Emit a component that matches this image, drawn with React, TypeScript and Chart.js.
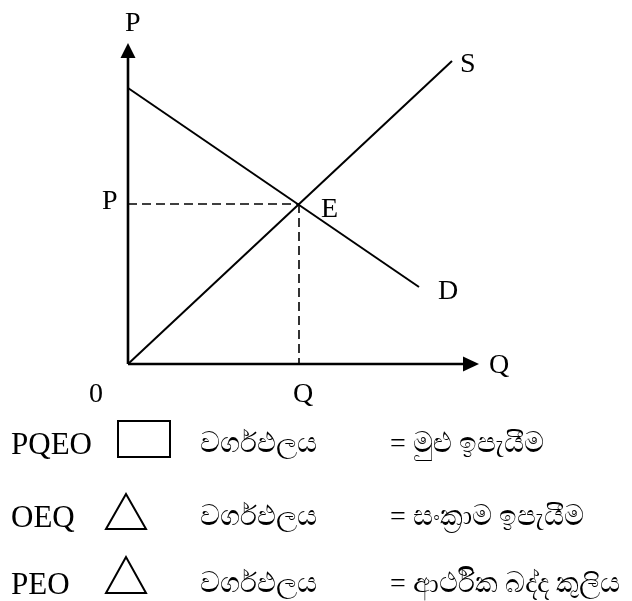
import React, { useEffect, useRef } from "react";
import { Chart, registerables } from "chart.js";

Chart.register(...registerables);

// Diagram values (abstract units: quantity on x, price on y)
const supplyX = [0, 32.4];
const supplyY = [0, 30.3];
const demandX = [0, 29.1];
const demandY = [27.6, 7.7];
const equilibriumQ = 17.1;
const equilibriumP = 16.0;
const axisMaxX = 35.1;
const axisMaxY = 32.1;
const arrowLenX = 1.6;
const arrowLenY = 1.5;

// Text labels on the diagram
const labelTexts = ["P", "P", "E", "S", "D", "Q", "0", "Q"];
const labelX = [-0.3, -2.6, 19.3, 33.2, 31.0, 36.1, -3.9, 16.5];
const labelY = [33.3, 15.5, 14.7, 29.2, 6.5, -0.9, -3.8, -3.8];

// Legend rows
const legendCodes = ["PQEO", "OEQ", "PEO"];
const legendWord = ["වර්ගඵලය", "වර්ගඵලය", "වර්ගඵලය"];
const legendMeaning = ["= මුළු ඉපැයීම", "= සංක්‍රාම ඉපැයීම", "= ආර්ථික බද්ද කුලිය"];
const legendBaselines = [455, 528, 595];

const W = 632;
const H = 601;

const overlayPlugin = {
  id: "overlay",
  afterDraw(chart: any) {
    const { ctx, scales } = chart;
    const xs = scales.x;
    const ys = scales.y;
    const px = (v: number) => xs.getPixelForValue(v);
    const py = (v: number) => ys.getPixelForValue(v);
    ctx.save();
    ctx.fillStyle = "#000";
    // y-axis arrow head
    const yx = px(0);
    ctx.beginPath();
    ctx.moveTo(yx, py(axisMaxY));
    ctx.lineTo(yx - 7.5, py(axisMaxY - arrowLenY));
    ctx.lineTo(yx + 7.5, py(axisMaxY - arrowLenY));
    ctx.closePath();
    ctx.fill();
    // x-axis arrow head
    const xy = py(0);
    ctx.beginPath();
    ctx.moveTo(px(axisMaxX), xy);
    ctx.lineTo(px(axisMaxX - arrowLenX), xy - 7.5);
    ctx.lineTo(px(axisMaxX - arrowLenX), xy + 7.5);
    ctx.closePath();
    ctx.fill();
    // labels
    ctx.font = '28px "Liberation Serif", "Times New Roman", serif';
    ctx.textBaseline = "alphabetic";
    ctx.textAlign = "left";
    labelTexts.forEach((t, i) => {
      ctx.fillText(t, px(labelX[i]), py(labelY[i]));
    });
    ctx.restore();
  },
};

export default function App() {
  const canvasRef = useRef<HTMLCanvasElement | null>(null);

  useEffect(() => {
    if (!canvasRef.current) return;
    const line = (xsArr: number[], ysArr: number[]) =>
      xsArr.map((x, i) => ({ x, y: ysArr[i] }));
    const chart = new Chart(canvasRef.current, {
      type: "line",
      data: {
        datasets: [
          {
            label: "y-axis",
            data: line([0, 0], [0, axisMaxY - arrowLenY]),
            borderColor: "#000",
            borderWidth: 2.6,
            pointRadius: 0,
            clip: false as any,
          },
          {
            label: "x-axis",
            data: line([0, axisMaxX - arrowLenX], [0, 0]),
            borderColor: "#000",
            borderWidth: 2.6,
            pointRadius: 0,
            clip: false as any,
          },
          {
            label: "S",
            data: line(supplyX, supplyY),
            borderColor: "#000",
            borderWidth: 2,
            pointRadius: 0,
            clip: false as any,
          },
          {
            label: "D",
            data: line(demandX, demandY),
            borderColor: "#000",
            borderWidth: 2,
            pointRadius: 0,
            clip: false as any,
          },
          {
            label: "P-E",
            data: line([0, equilibriumQ], [equilibriumP, equilibriumP]),
            borderColor: "#000",
            borderWidth: 1.6,
            borderDash: [9, 5],
            pointRadius: 0,
            clip: false as any,
          },
          {
            label: "E-Q",
            data: line([equilibriumQ, equilibriumQ], [equilibriumP, 0]),
            borderColor: "#000",
            borderWidth: 1.6,
            borderDash: [9, 5],
            pointRadius: 0,
            clip: false as any,
          },
        ],
      },
      options: {
        animation: false,
        responsive: false,
        maintainAspectRatio: false,
        layout: { padding: { left: 128, right: W - 479, top: 43, bottom: H - 364 } },
        plugins: {
          legend: { display: false },
          tooltip: { enabled: false },
          title: { display: false },
        },
        scales: {
          x: { type: "linear", min: 0, max: axisMaxX, display: false },
          y: { type: "linear", min: 0, max: axisMaxY, display: false },
        },
        events: [],
      },
      plugins: [overlayPlugin],
    });
    return () => chart.destroy();
  }, []);

  const font = '"Liberation Serif", "Times New Roman", serif';
  const textTop = (b: number) => b - 25;

  return (
    <div
      style={{
        position: "absolute",
        left: 0,
        top: 0,
        width: W,
        height: H,
        background: "#fff",
        overflow: "hidden",
      }}
    >
      <canvas
        ref={canvasRef}
        width={W}
        height={H}
        style={{ position: "absolute", left: 0, top: 0, width: W, height: H }}
      />
      <svg
        width={W}
        height={H}
        style={{ position: "absolute", left: 0, top: 0 }}
      >
        <rect x={118} y={421} width={52} height={36} fill="none" stroke="#000" strokeWidth={2} />
        <polygon points="126,494 106,529 146,529" fill="none" stroke="#000" strokeWidth={2} />
        <polygon points="126,557 106,593 146,593" fill="none" stroke="#000" strokeWidth={2} />
      </svg>
      {legendCodes.map((c, i) => (
        <React.Fragment key={c}>
          <div
            style={{
              position: "absolute",
              left: 11,
              top: textTop(legendBaselines[i]) - 1,
              font: `31px/30px ${font}`,
              whiteSpace: "nowrap",
            }}
          >
            {c}
          </div>
          <div
            style={{
              position: "absolute",
              left: 200,
              top: textTop(legendBaselines[i]) - 2,
              font: `28px/30px ${font}`,
              whiteSpace: "nowrap",
            }}
          >
            {legendWord[i]}
          </div>
          <div
            style={{
              position: "absolute",
              left: 390,
              top: textTop(legendBaselines[i]) - 2,
              font: `28px/30px ${font}`,
              whiteSpace: "nowrap",
            }}
          >
            {legendMeaning[i]}
          </div>
        </React.Fragment>
      ))}
    </div>
  );
}
